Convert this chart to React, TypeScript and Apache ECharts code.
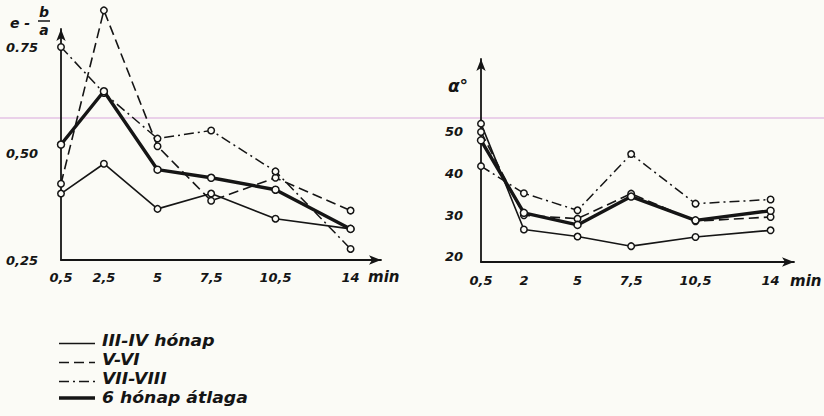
import React, { useEffect, useRef } from "react";
import * as echarts from "echarts";

// ---- data ----
const times = [0.5, 2.5, 5, 7.5, 10.5, 14];
const leftTickLabels = ["0,5", "2,5", "5", "7,5", "10,5", "14"];
const rightTickLabels = ["0,5", "2", "5", "7,5", "10,5", "14"];
const leftYTicks = [0.25, 0.5, 0.75];
const leftYTickLabels = ["0,25", "0,50", "0.75"];
const rightYTicks = [20, 30, 40, 50];
const rightYTickLabels = ["20", "30", "40", "50"];

const seriesNames = ["III-IV hónap", "V-VI", "VII-VIII", "6 hónap átlaga"];

// e - b/a
const ratioIIIIV = [0.406, 0.476, 0.37, 0.406, 0.347, 0.323];
const ratioVVI = [0.429, 0.836, 0.517, 0.389, 0.443, 0.366];
const ratioVIIVIII = [0.75, 0.642, 0.535, 0.554, 0.458, 0.276];
const ratioAvg = [0.521, 0.646, 0.462, 0.443, 0.415, 0.323];

// alpha degrees
const angleIIIIV = [52, 26.6, 24.9, 22.6, 24.8, 26.4];
const angleVVI = [50, 30, 29.2, 35.2, 28.6, 29.6];
const angleVIIVIII = [41.8, 35.3, 31.2, 44.7, 32.8, 33.8];
const angleAvg = [48, 30.6, 27.7, 34.5, 28.8, 31.1];

// ---- styling ----
const INK = "#151515";
const BG = "#fbfbf6";
const FONT = "DejaVu Sans";
const PX_PER_MIN = 21.45;

const lineStyles = [
  { width: 1.6, type: "solid" as any },
  { width: 1.6, type: [10, 5] as any },
  { width: 1.5, type: [10, 4, 2, 4] as any },
  { width: 3.4, type: "solid" as any },
];

const pairs = (ys: number[]) => times.map((t, i) => [t, ys[i]]);

const labelFont = {
  fontFamily: FONT,
  fontStyle: "italic" as const,
  fontWeight: "bold" as const,
  color: INK,
  fontSize: 13,
};

const axisLineBase = {
  show: true,
  onZero: false,
  symbol: ["none", "arrow"],
  symbolSize: [7, 12],
  lineStyle: { color: INK, width: 1.8 },
};

const pick = (vals: number[], labels: string[]) => (v: number) => {
  const i = vals.findIndex((x) => Math.abs(x - v) < 1e-6);
  return i >= 0 ? labels[i] : "";
};

function makeSeries(arrs: number[][], axis: number) {
  return arrs.map((ys, k) => ({
    name: seriesNames[k],
    type: "line",
    xAxisIndex: axis,
    yAxisIndex: axis,
    data: pairs(ys),
    clip: false,
    symbol: "circle",
    symbolSize: k === 3 ? 7 : 6.5,
    itemStyle: { color: BG, borderColor: INK, borderWidth: 1.5 },
    lineStyle: { color: INK, width: lineStyles[k].width, type: lineStyles[k].type },
    z: k === 3 ? 5 : 3,
  }));
}

const legendTextY = [341, 360, 379, 398];
const legendLineY = [343.5, 362.5, 381.5, 398];

function legendGraphics() {
  const out: any[] = [];
  seriesNames.forEach((name, k) => {
    out.push({
      type: "line",
      silent: true,
      shape: { x1: 59, y1: legendLineY[k], x2: 95, y2: legendLineY[k] },
      style: {
        stroke: INK,
        lineWidth: lineStyles[k].width,
        lineDash: Array.isArray(lineStyles[k].type) ? lineStyles[k].type : null,
      },
    });
    out.push({
      type: "text",
      silent: true,
      x: 102,
      y: legendTextY[k],
      scaleX: 1.15,
      style: {
        text: name,
        font: `italic bold 15px "${FONT}"`,
        fill: INK,
        textAlign: "left",
        textVerticalAlign: "middle",
      },
    });
  });
  return out;
}

const txt = (text: string, x: number, y: number, size: number, align = "center") => ({
  type: "text",
  silent: true,
  x,
  y,
  style: {
    text,
    font: `italic bold ${size}px "${FONT}"`,
    fill: INK,
    textAlign: align,
    textVerticalAlign: "middle",
  },
});

const option: any = {
  animation: false,
  backgroundColor: BG,
  grid: [
    { left: 61, top: 29, width: 320, height: 231 },
    { left: 481, top: 59, width: 313, height: 203 },
  ],
  xAxis: [
    {
      gridIndex: 0,
      type: "value",
      min: 0.5,
      max: 0.5 + 320 / PX_PER_MIN,
      axisLine: axisLineBase,
      axisTick: { show: false },
      splitLine: { show: false },
      axisLabel: { ...labelFont, margin: 11, customValues: times, formatter: pick(times, leftTickLabels) },
    },
    {
      gridIndex: 1,
      type: "value",
      min: 0.5,
      max: 0.5 + 313 / PX_PER_MIN,
      axisLine: axisLineBase,
      axisTick: { show: false },
      splitLine: { show: false },
      axisLabel: { ...labelFont, margin: 12, customValues: times, formatter: pick(times, rightTickLabels) },
    },
  ],
  yAxis: [
    {
      gridIndex: 0,
      type: "value",
      min: 0.25,
      max: 0.25 + 231 / 426,
      axisLine: axisLineBase,
      axisTick: { show: false },
      splitLine: { show: false },
      axisLabel: { ...labelFont, margin: 23, customValues: leftYTicks, formatter: pick(leftYTicks, leftYTickLabels) },
    },
    {
      gridIndex: 1,
      type: "value",
      min: 18.8,
      max: 18.8 + 203 / 4.167,
      axisLine: axisLineBase,
      axisTick: { show: false },
      splitLine: { show: false },
      axisLabel: { ...labelFont, margin: 18, customValues: rightYTicks, formatter: pick(rightYTicks, rightYTickLabels) },
    },
  ],
  series: [
    ...makeSeries([ratioIIIIV, ratioVVI, ratioVIIVIII, ratioAvg], 0),
    ...makeSeries([angleIIIIV, angleVVI, angleVIIVIII, angleAvg], 1),
  ],
  graphic: [
    {
      type: "line",
      silent: true,
      z: -10,
      shape: { x1: 0, y1: 118, x2: 824, y2: 118 },
      style: { stroke: "#d9a8dc", lineWidth: 1.2 },
    },
    txt("e -", 20, 23, 14),
    txt("b", 44, 12, 14),
    {
      type: "line",
      silent: true,
      shape: { x1: 38, y1: 21, x2: 50, y2: 21 },
      style: { stroke: INK, lineWidth: 1.5 },
    },
    txt("a", 44, 30, 14),
    txt("α°", 458, 86, 17),
    txt("min", 368, 277, 15, "left"),
    txt("min", 790, 281, 15, "left"),
    ...legendGraphics(),
  ],
};

export default function App() {
  const ref = useRef<HTMLDivElement>(null);
  useEffect(() => {
    document.body.style.margin = "0";
    const chart = echarts.init(ref.current!, undefined, { renderer: "svg" });
    chart.setOption(option);
    return () => chart.dispose();
  }, []);
  return <div ref={ref} style={{ width: 824, height: 416, background: BG }} />;
}
